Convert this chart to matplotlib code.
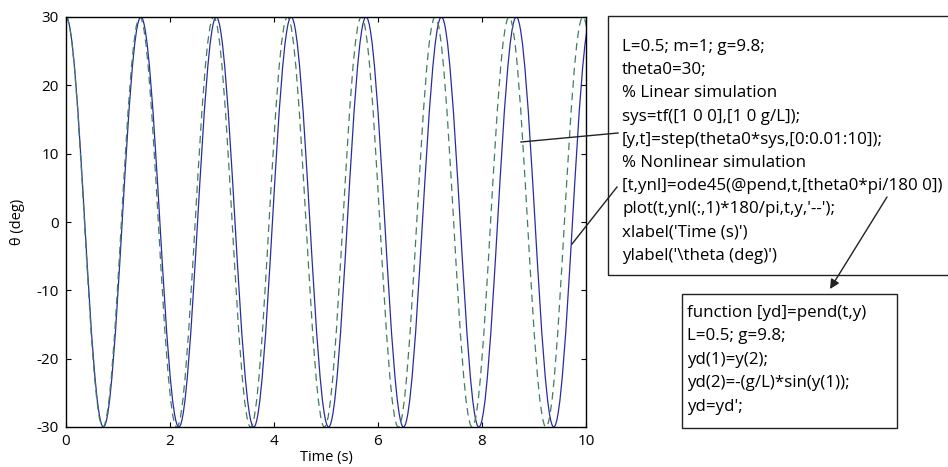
import matplotlib
matplotlib.use('Agg')
import matplotlib.pyplot as plt
from matplotlib.path import Path
from matplotlib.patches import PathPatch, Rectangle

plt.rcParams['font.family'] = ['Open Sans', 'Noto Sans', 'DejaVu Sans']
plt.rcParams['axes.unicode_minus'] = False

# turning points of the two responses (deg)
# nonlinear (ode45) - solid line; last peak lies just past t=10
nl_times = [0, 0.72, 1.44, 2.17, 2.89, 3.61, 4.33, 5.05, 5.77, 6.49,
            7.22, 7.94, 8.66, 9.38, 10.10]
nl_theta = [30, -30, 30, -30, 30, -30, 30, -30, 30, -30, 30, -30, 30, -30, 30]
# linear (step of tf) - dashed line
lin_times = [0, 0.71, 1.42, 2.13, 2.84, 3.55, 4.26, 4.97, 5.68, 6.39,
             7.10, 7.81, 8.52, 9.23, 9.94, 10.65]
lin_theta = [30, -30, 30, -30, 30, -30, 30, -30, 30, -30, 30, -30, 30, -30, 30, -30]

xticks = [0, 2, 4, 6, 8, 10]
yticks = [-30, -20, -10, 0, 10, 20, 30]

main_code = [
    "L=0.5; m=1; g=9.8;",
    "theta0=30;",
    "% Linear simulation",
    "sys=tf([1 0 0],[1 0 g/L]);",
    "[y,t]=step(theta0*sys,[0:0.01:10]);",
    "% Nonlinear simulation",
    "[t,ynl]=ode45(@pend,t,[theta0*pi/180 0])",
    "plot(t,ynl(:,1)*180/pi,t,y,'--');",
    "xlabel('Time (s)')",
    "ylabel('\\theta (deg)')",
]
pend_code = [
    "function [yd]=pend(t,y)",
    "L=0.5; g=9.8;",
    "yd(1)=y(2);",
    "yd(2)=-(g/L)*sin(y(1));",
    "yd=yd';",
]


def swing_path(times, vals):
    # smooth half-swings between turning points (cubic bezier, cosine-like)
    verts = [(times[0], vals[0])]
    codes = [Path.MOVETO]
    for t0, v0, t1, v1 in zip(times[:-1], vals[:-1], times[1:], vals[1:]):
        h = 0.3634 * (t1 - t0)
        verts += [(t0 + h, v0), (t1 - h, v1), (t1, v1)]
        codes += [Path.CURVE4] * 3
    return Path(verts, codes)


W, H = 948, 467
fig = plt.figure(figsize=(W / 100, H / 100), dpi=100)
ax = fig.add_axes([66 / W, 1 - 427 / H, 520 / W, 410 / H])

ax.add_patch(PathPatch(swing_path(nl_times, nl_theta), fill=False,
                       ec='#2b2ba0', lw=0.9))
ax.add_patch(PathPatch(swing_path(lin_times, lin_theta), fill=False,
                       ec='#3f7f5f', lw=0.9, ls=(0, (6, 4))))

ax.set_xlim(0, 10)
ax.set_ylim(-30, 30)
ax.set_xticks(xticks)
ax.set_yticks(yticks)
ax.tick_params(direction='in', top=True, right=True, length=3.5,
               width=0.8, labelsize=11, pad=5)
for s in ax.spines.values():
    s.set_linewidth(1.0)
ax.set_xlabel('Time (s)', fontsize=10.5)
ax.set_ylabel('θ (deg)', fontsize=10.5)
ax.xaxis.set_label_coords(0.5, -0.057)
ax.yaxis.set_label_coords(-0.078, 0.5)

# code boxes
fig.add_artist(Rectangle((608, H - 275), 400, 259, transform=None,
                         fill=False, ec='#222222', lw=1.0, clip_on=False))
fig.add_artist(Rectangle((682, H - 428), 215, 134, transform=None,
                         fill=False, ec='#222222', lw=1.0))
for i, line in enumerate(main_code):
    fig.text(622 / W, 1 - (47 + 23.2 * i) / H, line, fontsize=12.2,
             va='center', ha='left')
for i, line in enumerate(pend_code):
    fig.text(687 / W, 1 - (313 + 23.4 * i) / H, line, fontsize=12.2,
             va='center', ha='left')

# pointer lines and arrow
fig.add_artist(plt.Line2D([521 / W, 618 / W], [1 - 142 / H, 1 - 133 / H],
                          color='#222222', lw=1.0))
fig.add_artist(plt.Line2D([572 / W, 617 / W], [1 - 244 / H, 1 - 187 / H],
                          color='#222222', lw=1.0))
ax.annotate('', xy=(830, H - 289), xycoords='figure pixels',
            xytext=(887, H - 197), textcoords='figure pixels',
            arrowprops=dict(arrowstyle='-|>', color='#222222', lw=1.0,
                            mutation_scale=14, shrinkA=0, shrinkB=0))

plt.savefig('out.png', dpi=100)
